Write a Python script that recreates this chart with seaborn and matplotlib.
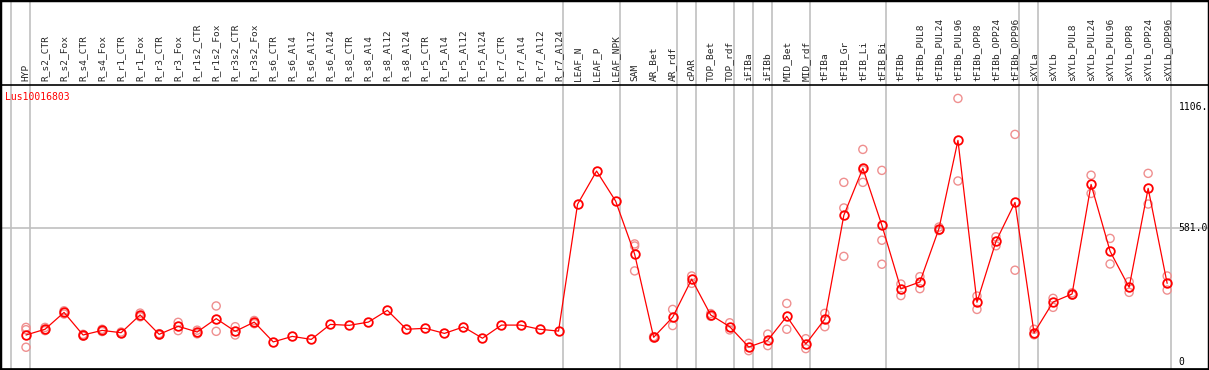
import matplotlib
matplotlib.use("Agg")
import matplotlib.pyplot as plt
import pandas as pd
import seaborn as sns

# sample columns, in plot order
samples = [
    "HYP",
    "R_s2_CTR", "R_s2_Fox", "R_s4_CTR", "R_s4_Fox", "R_r1_CTR", "R_r1_Fox",
    "R_r3_CTR", "R_r3_Fox", "R_r1s2_CTR", "R_r1s2_Fox", "R_r3s2_CTR", "R_r3s2_Fox",
    "R_s6_CTR", "R_s6_Al4", "R_s6_Al12", "R_s6_Al24", "R_s8_CTR", "R_s8_Al4",
    "R_s8_Al12", "R_s8_Al24", "R_r5_CTR", "R_r5_Al4", "R_r5_Al12", "R_r5_Al24",
    "R_r7_CTR", "R_r7_Al4", "R_r7_Al12", "R_r7_Al24",
    "LEAF_N", "LEAF_P", "LEAF_NPK", "SAM", "AR_Bet", "AR_rdf", "cPAR",
    "TOP_Bet", "TOP_rdf", "iFIBa", "iFIBb", "MID_Bet", "MID_rdf",
    "tFIBa", "tFIB_Gr", "tFIB_Li", "tFIB_Bi",
    "tFIBb", "tFIBb_PUL8", "tFIBb_PUL24", "tFIBb_PUL96", "tFIBb_OPP8",
    "tFIBb_OPP24", "tFIBb_OPP96",
    "sXYLa", "sXYLb", "sXYLb_PUL8", "sXYLb_PUL24", "sXYLb_PUL96", "sXYLb_OPP8",
    "sXYLb_OPP24", "sXYLb_OPP96",
]

# mean expression per sample
mean_expr = [
    117,
    142, 215, 117, 137, 127, 204, 120, 155, 130, 188, 133, 173,
    87, 111, 98, 163, 159, 173, 224, 142, 146, 124, 152, 103, 160, 160, 142, 134,
    684, 828, 698, 468, 107, 194, 359, 204, 153, 65, 94, 198, 78,
    186, 636, 840, 593,
    317, 347, 578, 961, 259, 523, 692,
    126, 260, 295, 770, 480, 324, 753, 341,
]

# individual replicates (empty where they sit under the mean)
replicates = [
    [150, 140, 64],
    [150, 136], [222, 208], [120, 112], [142, 132], [130, 124], [212, 196],
    [123, 117], [172, 136], [138, 122], [243, 133], [153, 117], [180, 166],
    [], [], [], [], [], [], [], [], [], [], [], [], [], [], [], [],
    [], [], [], [512, 503, 395], [110, 104], [228, 158], [373, 341],
    [210, 198], [170, 139], [81, 49], [121, 71], [254, 142], [101, 58],
    [211, 153], [779, 668, 458], [922, 779, 833], [831, 528, 424],
    [338, 288], [370, 318], [585, 570], [1143, 785], [286, 228], [543, 504], [987, 398],
    [142, 118], [276, 237], [300, 290], [810, 731], [536, 425], [348, 302],
    [818, 685], [373, 312],
]

# last column index of each sample group (-1 = left edge)
group_ends = [-1, 0, 28, 31, 34, 35, 37, 38, 39, 41, 45, 52, 53, 60]
y_ticks = [0, 581.0, 1106.0]
y_tick_labels = ["0", "581.0", "1106."]
gene_id = "Lus10016803"

sns.set_style("white")
plt.rcParams["font.family"] = ["DejaVu Sans Mono"]

mean_df = pd.DataFrame({"pos": range(len(samples)), "value": mean_expr})
rep_df = pd.DataFrame(
    [(i, v) for i, reps in enumerate(replicates) for v in reps],
    columns=["pos", "value"],
)

W, H = 1209, 370
fig = plt.figure(figsize=(W / 100, H / 100), dpi=100)
ax = fig.add_axes([0, 1 / H, 1, 284 / H])

# group separators run through the label band too
for g in group_ends:
    ax.axvline(g + 0.21, ymin=0, ymax=1.31, color="#c0c0c0", lw=1.2,
               clip_on=False, zorder=0)
ax.axhline(y_ticks[1], color="#c0c0c0", lw=1.2, zorder=0)

sns.scatterplot(data=rep_df, x="pos", y="value", ax=ax, marker="o",
                facecolors="none", edgecolor="#ef8f8f", s=34, linewidth=1.0,
                zorder=2)
sns.lineplot(data=mean_df, x="pos", y="value", ax=ax, color="red", lw=0.9,
             marker="o", markersize=6.2, markerfacecolor="none",
             markeredgecolor="red", markeredgewidth=1.3, zorder=3)

ax.set_xlim(-1.367, 62.2)
ax.set_ylim(-30.4, 1201.2)
ax.set_xticks(range(len(samples)))
ax.set_xticklabels(samples, rotation=90, fontsize=6.8)
ax.xaxis.tick_top()
ax.tick_params(axis="x", length=0, pad=3)
ax.set_yticks([])
ax.set_xlabel("")
ax.set_ylabel("")
for side in ["top", "bottom", "left", "right"]:
    ax.spines[side].set_color("black")
    ax.spines[side].set_linewidth(1.2)

for v, lab in zip(y_ticks, y_tick_labels):
    ax.text(60.6, v, lab, fontsize=7, va="center", ha="left", color="black",
            clip_on=False)

fig.text(5 / W, 1 - 97 / H, gene_id, color="red", fontsize=7, va="center",
         ha="left")

fig.add_artist(plt.Rectangle((0, 0), 1, 1, transform=fig.transFigure,
                             fill=False, ec="black", lw=2.5))

fig.savefig("out.png", dpi=100)
